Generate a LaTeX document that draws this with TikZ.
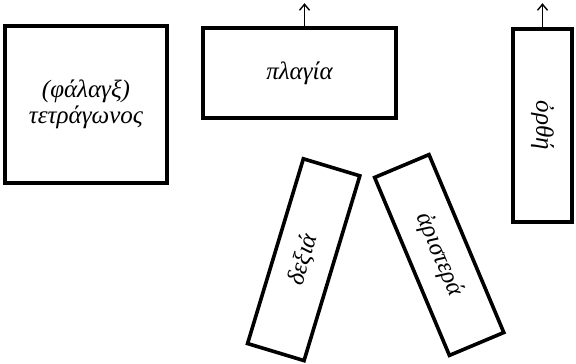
\documentclass[tikz,border=0pt]{standalone}
\usepackage{fontspec}
\setmainfont{Liberation Serif}
\usetikzlibrary{arrows.meta,positioning}

\begin{document}
\begin{tikzpicture}[x=1pt, y=-1pt,
    block/.style={draw, line width=3.6pt, line join=miter, inner sep=0pt, font=\fontsize{25}{26}\selectfont\itshape, text=black, align=center},
    slab/.style={block, minimum width=193pt, minimum height=59pt},
    uparr/.style={-{Straight Barb[length=6pt, width=10pt, line width=1.4pt]}, line width=1.6pt, black},
]
\useasboundingbox (0,0) rectangle (576,364);

% Blocks
\node[block, minimum width=162pt, minimum height=157pt] (phalanx) at (86,104.5) {(φάλαγξ)\\τετράγωνος};
\node[block, minimum width=193pt, minimum height=90pt] (plagia) at (299.5,73) {πλαγία};
\node[slab, rotate=-90] (orthe) at (542.5,125.5) {ὀρθή};
\node[slab, rotate=73.2] (dexia) at (303.7,259.7) {δεξιά};
\node[slab, rotate=-67.2] (aristera) at (439.2,255) {ἀριστερά};

% Arrows
\draw[uparr] (plagia.north) ++(5,0) coordinate (pa) -- ++(0,-23);
\draw[uparr] (orthe.west) -- ++(0,-24);
\end{tikzpicture}
\end{document}
